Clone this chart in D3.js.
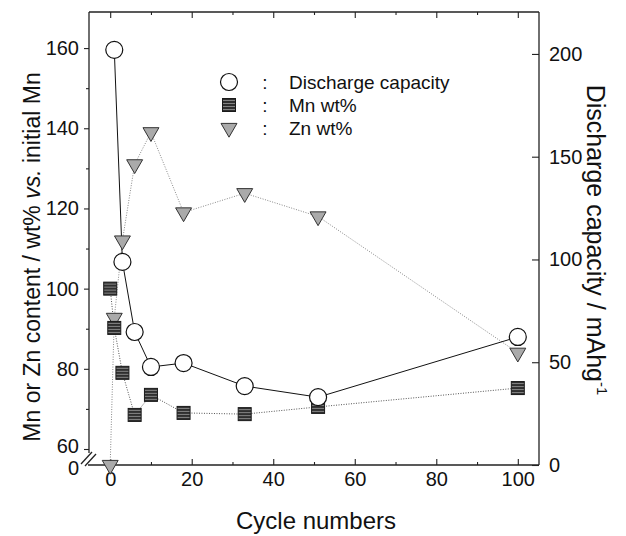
<!DOCTYPE html>
<html>
<head>
<meta charset="utf-8">
<script src="https://cdn.jsdelivr.net/npm/d3@7"></script>
<style>
    body { margin: 0; background: #fff; }
    text { font-family: "Liberation Sans", Arial, sans-serif; fill: #111; }
</style>
</head>
<body>
<div id="chart"></div>
<script>
// data
const cycles = [0, 1, 3, 6, 10, 18, 33, 51, 100];
const mnWt = [100, 90.2, 79, 68.5, 73.5, 69, 68.7, 70.5, 75.2];
const znWt = [0, 92.7, 112, 131, 139, 119, 123.8, 118, 84];
const capCycles = [1, 3, 6, 10, 18, 33, 51, 100];
const capacity = [202, 98.8, 64.7, 47.7, 49.6, 38.4, 33, 62.3];

const xTicks = [0, 20, 40, 60, 80, 100];
const xMinor = [10, 30, 50, 70, 90];
const leftTicks = [0, 60, 80, 100, 120, 140, 160];
const leftMinor = [70, 90, 110, 130, 150];
const rightTicks = [0, 50, 100, 150, 200];
const legendNames = ["Discharge capacity", "Mn wt%", "Zn wt%"];

const w = 626, h = 536;
const pLeft = 89, pRight = 539, pTop = 12, pBottom = 465;

const svg = d3.select("#chart").append("svg")
    .attr("width", w)
    .attr("height", h);

const defs = svg.append("defs");
const pat = defs.append("pattern")
    .attr("id", "hatch")
    .attr("patternUnits", "userSpaceOnUse")
    .attr("width", 3).attr("height", 3);
pat.append("rect").attr("width", 3).attr("height", 3).attr("fill", "#2f2f2f");
pat.append("line").attr("x1", 0).attr("x2", 3).attr("y1", 1.5).attr("y2", 1.5)
    .attr("stroke", "#999").attr("stroke-width", 0.8);

const x = d3.scaleLinear().domain([-5.2, 105.2]).range([pLeft, pRight]);
// broken left axis: 0 sits at the bottom, 60..169 above the break
const yL = d3.scaleLinear().domain([0, 60, 169]).range([pBottom, 449, pTop]);
const yR = d3.scaleLinear().domain([0, 220.4]).range([pBottom, pTop]);

// axes
svg.append("g").attr("transform", `translate(0,${pBottom})`)
    .call(d3.axisBottom(x).tickValues(xTicks).tickSize(-6).tickPadding(7).tickFormat(d3.format("d")));
svg.append("g").attr("transform", `translate(0,${pBottom})`)
    .call(d3.axisBottom(x).tickValues(xMinor).tickSize(-3).tickFormat(""));
svg.append("g").attr("transform", `translate(0,${pTop})`)
    .call(d3.axisTop(x).tickValues(xTicks).tickSize(-6).tickFormat(""));
svg.append("g").attr("transform", `translate(0,${pTop})`)
    .call(d3.axisTop(x).tickValues(xMinor).tickSize(-3).tickFormat(""));

svg.append("g").attr("transform", `translate(${pLeft},0)`)
    .call(d3.axisLeft(yL).tickValues(leftTicks).tickSize(5).tickPadding(5).tickFormat(d3.format("d")))
    .call(g => g.selectAll(".tick").filter(d => d === 0).select("line").remove())
    .call(g => g.selectAll(".tick").filter(d => d === 0).select("text").attr("dy", "0.48em"))
    .call(g => g.selectAll(".tick").filter(d => d === 60).select("text").attr("dy", "0.18em"));
svg.append("g").attr("transform", `translate(${pLeft},0)`)
    .call(d3.axisLeft(yL).tickValues(leftMinor).tickSize(3).tickFormat(""));

svg.append("g").attr("transform", `translate(${pRight},0)`)
    .call(d3.axisRight(yR).tickValues(rightTicks).tickSize(-7).tickPadding(10).tickFormat(d3.format("d")));

svg.selectAll(".domain").remove();
svg.selectAll(".tick line").attr("stroke", "#222").attr("stroke-width", 1.1);
svg.selectAll(".tick text").attr("font-size", "20px").attr("fill", "#111");

// frame with the break on the left
const frame = svg.append("g").attr("stroke", "#222").attr("stroke-width", 1.3).attr("fill", "none");
frame.append("line").attr("x1", pLeft).attr("x2", pRight).attr("y1", pTop).attr("y2", pTop);
frame.append("line").attr("x1", pRight).attr("x2", pRight).attr("y1", pTop).attr("y2", pBottom);
frame.append("line").attr("x1", pLeft - 1).attr("x2", pRight).attr("y1", pBottom).attr("y2", pBottom);
frame.append("line").attr("x1", pLeft).attr("x2", pLeft).attr("y1", pTop).attr("y2", yL(60) + 4);
frame.append("line").attr("x1", pLeft - 8).attr("x2", pLeft + 3).attr("y1", pBottom - 1).attr("y2", pBottom - 13);
frame.append("line").attr("x1", pLeft - 4).attr("x2", pLeft + 7).attr("y1", pBottom + 1).attr("y2", pBottom - 11);

// lines
const znPts = cycles.map((c, i) => [c, znWt[i]]);
const mnPts = cycles.map((c, i) => [c, mnWt[i]]);
const capPts = capCycles.map((c, i) => [c, capacity[i]]);

svg.append("path").datum(znPts)
    .attr("d", d3.line().x(d => x(d[0])).y(d => yL(d[1])))
    .attr("fill", "none").attr("stroke", "#888").attr("stroke-width", 1)
    .attr("stroke-dasharray", "1,1.5");
svg.append("path").datum(mnPts)
    .attr("d", d3.line().x(d => x(d[0])).y(d => yL(d[1])))
    .attr("fill", "none").attr("stroke", "#555").attr("stroke-width", 1)
    .attr("stroke-dasharray", "1,1.5");
svg.append("path").datum(capPts)
    .attr("d", d3.line().x(d => x(d[0])).y(d => yR(d[1])))
    .attr("fill", "none").attr("stroke", "#111").attr("stroke-width", 1);

// markers
const tri = d3.symbol().type(d3.symbolTriangle).size(110);

function drawTri(sel) {
    sel.attr("d", tri).attr("fill", "#aaa").attr("stroke", "#333").attr("stroke-width", 1);
}
function drawSq(sel) {
    sel.attr("x", -6.5).attr("y", -6.5).attr("width", 13).attr("height", 13)
        .attr("fill", "url(#hatch)").attr("stroke", "#1a1a1a").attr("stroke-width", 1);
}
function drawCirc(sel) {
    sel.attr("r", 8.5).attr("fill", "#fff").attr("stroke", "#111").attr("stroke-width", 1.2);
}

svg.selectAll("path.zn").data(znPts).enter().append("path")
    .attr("class", "zn")
    .attr("transform", d => `translate(${x(d[0])},${yL(d[1])}) rotate(180)`)
    .call(drawTri);
svg.selectAll("rect.mn").data(mnPts).enter().append("rect")
    .attr("class", "mn")
    .attr("transform", d => `translate(${x(d[0])},${yL(d[1])})`)
    .call(drawSq);
svg.selectAll("circle.cap").data(capPts).enter().append("circle")
    .attr("class", "cap")
    .attr("cx", d => x(d[0])).attr("cy", d => yR(d[1]))
    .call(drawCirc);

// legend
const leg = svg.append("g").attr("transform", "translate(229,82)");
leg.selectAll("g").data(legendNames).enter().append("g")
    .attr("transform", (d, i) => `translate(0,${i * 23})`)
    .each(function (d, i) {
        const g = d3.select(this);
        if (i === 0) g.append("circle").call(drawCirc);
        if (i === 1) g.append("rect").call(drawSq);
        if (i === 2) g.append("path").attr("transform", "rotate(180)").call(drawTri);
        g.append("text").attr("x", 36).attr("dy", "0.35em").attr("font-size", "19px")
            .attr("text-anchor", "middle").text(":");
        g.append("text").attr("x", 60).attr("dy", "0.35em").attr("font-size", "19px").text(d);
    });

// axis titles
svg.append("text")
    .attr("x", (pLeft + pRight) / 2 + 2).attr("y", 529)
    .attr("text-anchor", "middle").attr("font-size", "24px")
    .text("Cycle numbers");

const lt = svg.append("text")
    .attr("transform", "translate(40,257) rotate(-90)")
    .attr("text-anchor", "middle").attr("font-size", "23px");
lt.append("tspan").text("Mn or Zn content / wt% ");
lt.append("tspan").attr("font-style", "italic").text("vs.");
lt.append("tspan").text(" initial Mn");

const rt = svg.append("text")
    .attr("transform", "translate(587,240) rotate(90)")
    .attr("text-anchor", "middle").attr("font-size", "25px");
rt.append("tspan").text("Discharge capacity / mAhg");
rt.append("tspan").attr("font-size", "15px").attr("dy", "-10").text("-1");
</script>
</body>
</html>
